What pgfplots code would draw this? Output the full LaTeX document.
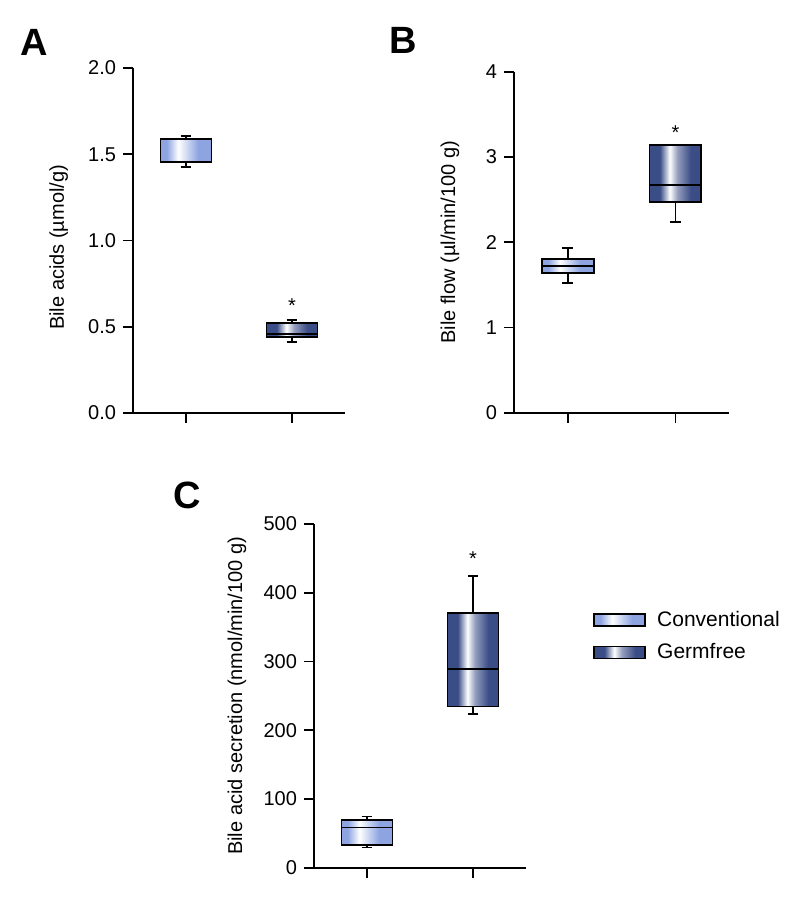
\documentclass[border=0pt]{standalone}
\usepackage{pgfplots}
\pgfplotsset{compat=1.18}
\usepgfplotslibrary{statistics}
\usepackage{fontspec}
\setmainfont{Liberation Sans}
\definecolor{convblue}{HTML}{8DA4E1}
\definecolor{gfblue}{HTML}{3B4D86}
\pgfdeclarehorizontalshading{convshade}{100bp}{color(0bp)=(convblue); color(25bp)=(convblue); color(31bp)=(convblue); color(42.5bp)=(white); color(62bp)=(convblue); color(100bp)=(convblue)}
\pgfdeclarehorizontalshading{gfshade}{100bp}{color(0bp)=(gfblue); color(25bp)=(gfblue); color(35bp)=(gfblue); color(44.5bp)=(white); color(52bp)=(gfblue!55!white); color(65bp)=(gfblue); color(100bp)=(gfblue)}
\pgfplotsset{
  panel/.style={
    scale only axis,
    axis x line*=bottom, axis y line*=left,
    xmin=0.5, xmax=2.5,
    xtick={1,2}, xticklabels={},
    tick align=outside, major tick length=5pt,
    tick style={black, line width=0.9pt},
    axis line style={black, line width=0.9pt},
    ytick pos=left, xtick pos=bottom,
    tick label style={font=\fontsize{10}{12}\selectfont},
    /pgf/number format/assume math mode=true,
    label style={font=\fontsize{11.3}{13}\selectfont},
    clip=false,
    boxplot/draw direction=y,
  },
  conv/.style={black, solid, line width=0.9pt, boxplot/every box/.style={shading=convshade}},
  gf/.style={black, solid, line width=0.9pt, boxplot/every box/.style={shading=gfshade}},
}
\begin{document}
\begin{tikzpicture}
\useasboundingbox (0pt,0pt) rectangle (400pt,448.5pt);
% Panel letters
\node[font=\bfseries\fontsize{19}{22}\selectfont] at (17.25pt,427.25pt) {A};
\node[font=\bfseries\fontsize{19}{22}\selectfont] at (201.5pt,428.5pt) {B};
\node[font=\bfseries\fontsize{19}{22}\selectfont] at (93.75pt,201pt) {C};
% Panel A
\begin{axis}[panel, at={(66.5pt,242pt)}, anchor=south west, width=106pt, height=172.5pt,
  ymin=0, ymax=2, ytick={0,0.5,1,1.5,2},
  yticklabel style={/pgf/number format/.cd, fixed, fixed zerofill, precision=1},
  ylabel={Bile acids (µmol/g)},
  every axis y label/.style={at={(axis description cs:-0.35,0.48)}, rotate=90, anchor=center}]
\addplot[conv, boxplot prepared={draw position=1, median=1.585, upper quartile=1.59, lower quartile=1.457, upper whisker=1.608, lower whisker=1.426, box extend=0.48, whisker extend=0.1}] coordinates {};
\addplot[gf, boxplot prepared={draw position=2, median=0.456, upper quartile=0.522, lower quartile=0.439, upper whisker=0.539, lower whisker=0.413, box extend=0.48, whisker extend=0.1}] coordinates {};
\node[font=\fontsize{10}{12}\selectfont] at (axis cs:2,0.622) {*};
\end{axis}
% Panel B
\begin{axis}[panel, at={(257pt,242.15pt)}, anchor=south west, width=107.6pt, height=170.5pt,
  ymin=0, ymax=4, ytick={0,1,2,3,4},
  ylabel={Bile flow (µl/min/100 g)},
  every axis y label/.style={at={(axis description cs:-0.298,0.5)}, rotate=90, anchor=center}]
\addplot[conv, boxplot prepared={draw position=1, median=1.72, upper quartile=1.80, lower quartile=1.635, upper whisker=1.93, lower whisker=1.52, box extend=0.48, whisker extend=0.1}] coordinates {};
\addplot[gf, boxplot prepared={draw position=2, median=2.67, upper quartile=3.14, lower quartile=2.47, upper whisker=3.14, lower whisker=2.24, box extend=0.48, whisker extend=0.1}] coordinates {};
\node[font=\fontsize{10}{12}\selectfont] at (axis cs:2,3.29) {*};
\end{axis}
% Panel C
\begin{axis}[panel, at={(157pt,14.65pt)}, anchor=south west, width=106pt, height=171.85pt,
  ymin=0, ymax=500, ytick={0,100,200,300,400,500},
  ylabel={Bile acid secretion (nmol/min/100 g)},
  every axis y label/.style={at={(axis description cs:-0.363,0.5)}, rotate=90, anchor=center},
  legend style={draw=none, fill=none, at={(1.316,0.673)}, anchor=west, inner sep=0pt,
    font=\fontsize{10.5}{12}\selectfont, row sep=3pt},
  legend cell align=left]
\addplot[conv, forget plot, boxplot prepared={draw position=1, median=58.6, upper quartile=69.3, lower quartile=33.4, upper whisker=74.6, lower whisker=29.5, box extend=0.48, whisker extend=0.1}] coordinates {};
\addplot[gf, forget plot, boxplot prepared={draw position=2, median=288.8, upper quartile=370, lower quartile=234.4, upper whisker=424, lower whisker=223.8, box extend=0.48, whisker extend=0.1}] coordinates {};
\addlegendimage{legend image code/.code={\draw[shading=convshade, draw=black, line width=0.9pt] (0pt,-3pt) rectangle (25.5pt,3pt);}}
\addlegendentry{\hspace{3.5pt}Conventional}
\addlegendimage{legend image code/.code={\draw[shading=gfshade, draw=black, line width=0.9pt] (0pt,-3pt) rectangle (25.5pt,3pt);}}
\addlegendentry{\hspace{3.5pt}Germfree}
\node[font=\fontsize{10}{12}\selectfont] at (axis cs:2,449) {*};
\end{axis}
\end{tikzpicture}
\end{document}
